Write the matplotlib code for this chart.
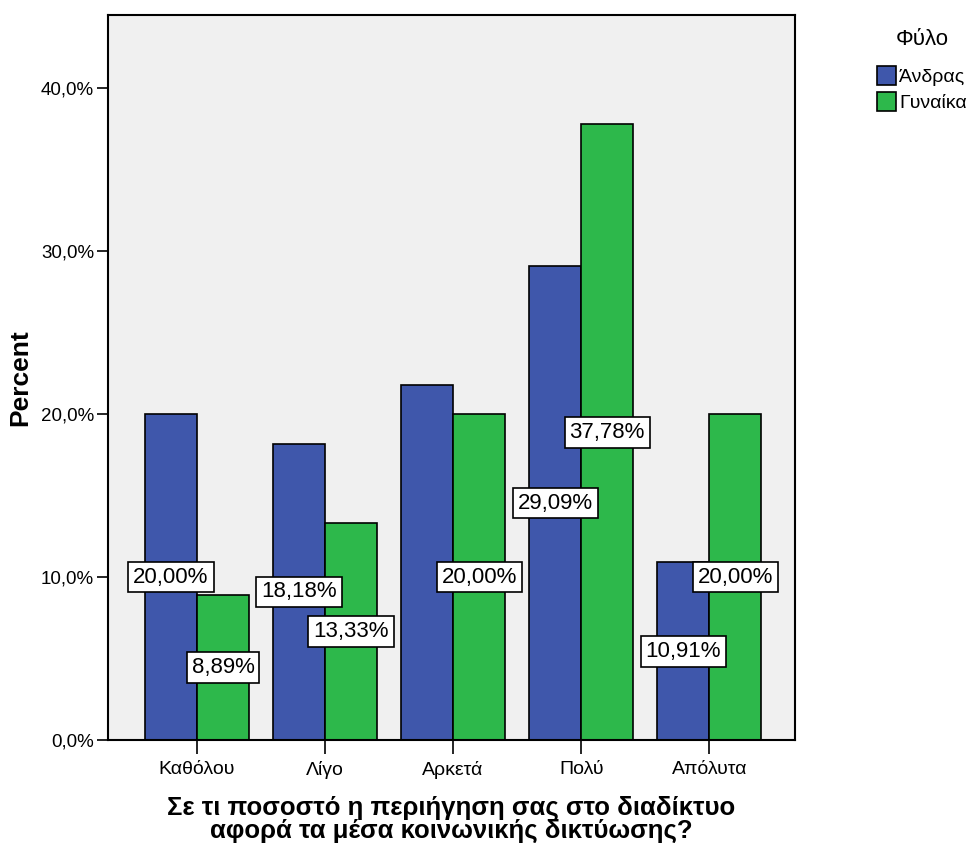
import matplotlib.pyplot as plt
import numpy as np

plt.rcParams['font.family'] = ['Liberation Sans', 'DejaVu Sans']

categories = ['Καθόλου', 'Λίγο', 'Αρκετά', 'Πολύ', 'Απόλυτα']
male = [20.00, 18.18, 21.82, 29.09, 10.91]
female = [8.89, 13.33, 20.00, 37.78, 20.00]
male_labels = ['20,00%', '18,18%', None, '29,09%', '10,91%']
female_labels = ['8,89%', '13,33%', '20,00%', '37,78%', '20,00%']
series_names = ['Άνδρας', 'Γυναίκα']
yticks = [0, 10, 20, 30, 40]
ytick_labels = ['0,0%', '10,0%', '20,0%', '30,0%', '40,0%']

blue = '#3f57ab'
green = '#2db84b'

fig = plt.figure(figsize=(9.7, 8.43), dpi=100)
ax = fig.add_axes([0.1113, 0.1222, 0.7083, 0.86])
ax.set_facecolor('#f0f0f0')

x = np.arange(len(categories))
w = 0.406
b1 = ax.bar(x - w / 2, male, w, color=blue, edgecolor='black', linewidth=1.2, label=series_names[0])
b2 = ax.bar(x + w / 2, female, w, color=green, edgecolor='black', linewidth=1.2, label=series_names[1])

box = dict(boxstyle='square,pad=0.22', facecolor='white', edgecolor='black', linewidth=1.2)
for xi, v, lab in zip(x, male, male_labels):
    if lab:
        ax.text(xi - w / 2, v / 2, lab, ha='center', va='center', fontsize=16, bbox=box, zorder=5)
for xi, v, lab in zip(x, female, female_labels):
    ax.text(xi + w / 2, v / 2, lab, ha='center', va='center', fontsize=16, bbox=box, zorder=5)

ax.set_xlim(-0.695, 4.67)
ax.set_ylim(0, 44.5)
ax.set_xticks(x)
ax.set_xticklabels(categories, fontsize=14)
ax.set_yticks(yticks)
ax.set_yticklabels(ytick_labels, fontsize=13.5)
ax.tick_params(axis='y', direction='out', length=8, width=1.2, pad=2)
ax.tick_params(axis='x', direction='out', length=10, width=1.2, pad=5)
for s in ax.spines.values():
    s.set_linewidth(1.5)

ax.set_ylabel('Percent', fontsize=19, fontweight='bold', labelpad=6)
ax.set_xlabel('Σε τι ποσοστό η περιήγηση σας στο διαδίκτυο\nαφορά τα μέσα κοινωνικής δικτύωσης?',
              fontsize=18.5, fontweight='bold', labelpad=12, linespacing=0.95)

leg = fig.legend(handles=[b1, b2], title='Φύλο', loc='upper left', bbox_to_anchor=(0.904, 0.966),
                 frameon=False, fontsize=14, title_fontsize=16, handlelength=1.0, handleheight=1.1,
                 handletextpad=0.15, labelspacing=0.3, borderaxespad=0, borderpad=0)
leg._legend_box.align = 'center'
leg._legend_box.sep = 12

fig.savefig('out.png', dpi=100)
